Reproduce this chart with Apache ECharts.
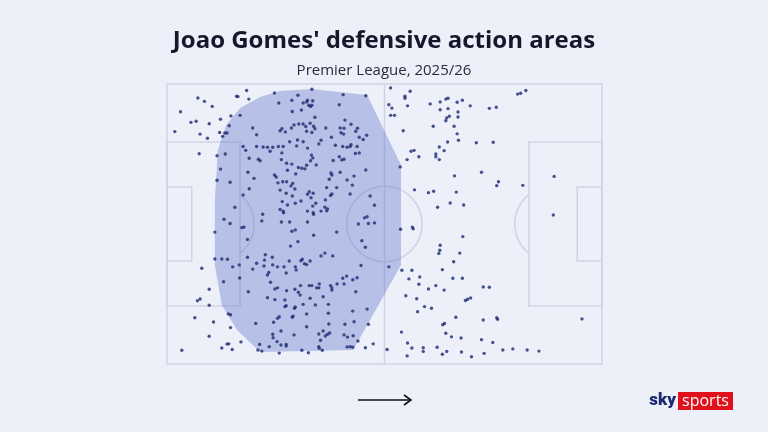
<!DOCTYPE html>
<html>
<head>
<meta charset="utf-8">
<script src="https://cdn.jsdelivr.net/npm/echarts@6/dist/echarts.min.js"></script>
<style>
  html, body { margin: 0; padding: 0; background: #eef0f9; }
  #chart { width: 768px; height: 432px; }
</style>
</head>
<body>
<div id="chart"></div>
<script>
// pitch coordinates 0-100 (Opta style), attack left -> right
var titleText = "Joao Gomes' defensive action areas";
var subtitleText = 'Premier League, 2025/26';

// defensive actions [x, y]
var actions = [
  [18.3,2.3],[16.0,4.4],[16.3,4.5],[18.8,5.4],[7.1,5.0],[8.6,6.2],[10.4,8.0],[3.1,9.9],[14.7,11.4],[16.8,11.2],
  [12.3,12.6],[6.7,13.3],[5.5,13.7],[9.7,14.2],[14.3,14.9],[19.7,15.7],[1.8,17.0],[7.6,17.9],[12.1,17.3],[13.3,17.5],
  [13.8,17.5],[12.8,18.7],[20.6,18.1],[9.3,19.4],[24.7,3.2],[17.5,22.3],[18.1,23.7],[20.6,22.3],[22.1,22.5],[23.1,22.6],
  [24.3,22.6],[23.7,24.0],[7.4,24.9],[13.4,25.0],[11.5,25.6],[18.9,26.5],[21.0,26.9],[21.4,27.4],[12.3,30.4],[18.6,31.5],
  [33.3,1.9],[40.5,3.8],[45.7,4.2],[30.1,4.0],[25.7,6.8],[28.7,5.8],[31.3,6.8],[32.1,6.4],[32.3,5.8],[33.5,6.0],
  [32.6,7.6],[33.0,8.0],[33.3,7.6],[39.6,7.4],[28.8,9.8],[30.9,9.3],[34.0,11.9],[29.2,14.6],[30.3,14.3],[31.3,14.3],
  [32.9,14.0],[28.6,15.7],[26.4,16.0],[26.0,16.7],[27.2,17.1],[31.9,15.2],[33.7,15.1],[34.0,16.0],[32.1,16.9],[33.3,17.3],
  [36.5,15.7],[40.9,12.9],[42.3,14.4],[39.8,15.7],[40.7,15.8],[43.8,15.8],[43.4,16.9],[40.0,17.4],[37.8,19.0],[40.6,17.9],
  [45.9,18.3],[44.2,19.0],[45.1,19.8],[35.4,20.1],[34.9,21.4],[28.2,20.6],[30.0,20.0],[31.3,20.6],[29.8,22.1],[32.3,22.9],
  [25.6,22.3],[26.7,22.3],[38.7,21.9],[40.4,22.3],[41.4,22.6],[42.1,22.3],[42.3,21.7],[43.7,22.3],[43.3,24.8],[44.2,24.6],
  [39.6,26.0],[40.2,27.1],[40.7,26.9],[38.2,27.3],[26.4,24.6],[33.2,25.4],[33.5,26.4],[33.0,27.4],[26.3,27.0],[27.5,28.3],
  [28.7,28.6],[34.3,28.9],[32.1,29.0],[31.0,30.1],[30.2,29.8],[31.7,30.3],[27.7,30.8],[37.7,31.8],[39.8,31.5],[45.7,30.7],
  [51.4,1.4],[55.9,2.6],[54.7,4.4],[54.7,5.1],[51.0,7.4],[51.7,8.6],[55.3,7.8],[60.5,7.1],[62.8,6.4],[64.1,5.4],
  [64.6,5.1],[66.7,6.5],[67.9,5.8],[62.8,9.2],[64.6,8.8],[66.9,10.0],[69.7,7.8],[74.1,8.7],[75.7,8.3],[51.4,11.2],
  [52.3,11.2],[64.3,12.1],[64.9,11.5],[64.1,13.1],[66.9,11.8],[61.2,15.1],[66.0,15.1],[54.3,16.7],[66.7,17.8],[67.0,20.1],
  [64.5,20.7],[71.1,21.0],[75.0,20.8],[62.6,22.5],[56.1,24.0],[56.8,23.7],[63.7,23.8],[61.8,25.0],[61.8,26.0],[57.9,26.0],
  [62.6,27.0],[55.2,27.0],[53.6,29.6],[72.3,31.5],[80.6,3.6],[81.3,3.3],[82.5,2.3],
  [11.5,34.4],[14.5,35.1],[20.0,33.7],[24.7,32.5],[18.9,37.4],[17.5,39.6],[15.6,44.0],[13.1,48.3],[14.5,49.8],[22.0,46.5],
  [21.8,48.9],[17.2,51.3],[17.7,51.1],[11.0,52.9],[18.5,55.5],[11.0,62.5],[12.6,62.5],[13.9,62.6],[18.5,61.9],[22.6,61.0],
  [24.2,61.9],[22.4,62.9],[20.6,64.0],[24.3,64.6],[22.3,65.0],[16.6,64.6],
  [25.1,33.2],[29.6,32.1],[37.9,32.5],[43.0,32.9],[25.5,35.3],[26.6,34.9],[27.5,34.9],[28.5,36.4],[28.9,35.5],[29.4,37.5],
  [26.0,37.9],[37.3,34.0],[41.4,34.3],[42.6,36.1],[36.7,37.0],[39.0,37.0],[27.4,39.0],[28.8,40.0],[32.7,38.5],[32.3,39.4],
  [33.6,39.0],[33.1,40.6],[37.9,39.3],[37.6,39.8],[42.1,39.3],[46.7,40.0],[30.8,41.8],[26.5,42.0],[29.5,42.6],[34.2,42.6],
  [36.4,41.4],[47.7,43.3],[33.5,43.6],[27.7,43.2],[36.3,44.0],[36.9,44.6],[36.7,45.3],[26.0,44.8],[26.7,45.4],[26.8,46.0],
  [32.3,45.4],[33.6,46.0],[33.7,46.5],[35.4,45.4],[45.4,47.8],[46.0,47.4],[26.3,49.3],[28.2,49.3],[32.3,49.3],[44.0,50.0],
  [46.3,49.8],[47.7,49.6],[29.5,52.1],[28.7,52.6],[39.0,52.9],[33.7,54.0],[44.8,56.0],[30.1,56.3],[45.6,58.3],[28.4,57.9],
  [36.3,60.4],[35.4,61.4],[38.1,61.4],[31.1,62.6],[30.8,63.1],[32.9,63.2],[28.1,63.2],[31.6,64.2],[32.1,64.5],[25.4,65.3],
  [26.9,65.3],[29.5,65.3],[44.6,64.8],
  [66.1,32.8],[56.9,37.8],[60.1,38.8],[61.3,38.3],[66.5,38.6],[65.1,42.5],[68.2,43.2],[62.2,44.0],[53.7,51.9],[56.4,51.1],
  [56.6,51.7],[68.0,54.5],[62.8,57.6],[62.7,59.4],[62.5,60.5],[67.3,60.4],[65.9,63.5],[51.0,65.3],
  [76.2,34.9],[75.8,36.3],[81.8,36.2],[89.0,33.0],[88.8,46.8],
  [8.0,65.8],[15.1,65.3],[19.7,66.1],[23.4,67.3],[23.1,68.2],[16.7,69.3],[13.0,70.6],[23.8,70.8],[9.7,73.3],[18.7,74.2],
  [7.6,76.8],[7.0,77.4],[23.1,76.3],[9.7,79.0],[14.1,82.1],[14.6,82.4],[6.4,83.5],[10.7,85.0],[20.4,85.5],[24.5,85.1],
  [14.6,87.0],[9.7,90.1],[24.3,89.4],[24.4,90.6],[17.0,92.1],[13.8,92.9],[14.2,92.8],[21.3,93.0],[12.6,94.3],[15.0,94.8],
  [23.5,93.8],[20.9,95.0],[21.8,95.4],[3.4,95.1],
  [29.7,66.4],[27.4,67.5],[41.3,68.6],[40.4,69.4],[42.7,69.9],[43.7,69.2],[24.8,73.2],[25.4,72.8],[27.5,73.8],[29.4,73.3],
  [30.2,74.4],[30.6,75.4],[30.7,72.0],[32.7,72.0],[33.3,72.0],[34.4,72.8],[34.9,72.8],[35.0,71.4],[37.6,72.0],[37.9,72.8],
  [37.9,73.6],[39.1,71.4],[40.7,71.4],[43.4,74.2],[24.8,77.0],[27.1,77.1],[32.9,76.5],[35.9,76.0],[27.1,79.5],[27.4,79.2],
  [29.3,80.1],[29.5,79.6],[31.3,78.7],[34.1,78.9],[37.1,78.7],[46.0,80.4],[42.7,81.1],[37.1,81.9],[32.1,82.1],[25.8,83.1],
  [25.4,83.7],[28.8,83.3],[29.0,82.9],[43.0,84.9],[37.2,85.7],[40.9,85.8],[46.3,85.8],[32.1,86.7],[26.2,88.2],[35.9,88.2],
  [34.9,89.3],[36.4,90.0],[36.9,89.4],[37.4,88.9],[29.2,89.6],[40.7,89.6],[41.5,90.4],[42.8,89.9],[35.3,91.5],[25.3,92.0],
  [43.9,91.8],[47.4,92.8],[26.2,93.2],[27.4,93.6],[27.4,93.0],[34.9,93.8],[35.0,94.4],[35.7,95.1],[31.0,95.1],[32.5,96.0],
  [25.8,96.1],[41.4,93.9],[42.1,93.8],[42.7,94.0],[45.6,94.2],
  [54.0,66.5],[56.3,66.5],[63.3,66.3],[55.6,69.6],[58.1,68.9],[65.7,69.4],[67.9,69.4],[57.9,71.5],[61.8,72.0],[60.1,73.2],
  [63.7,73.6],[72.7,72.5],[74.1,72.6],[54.9,75.6],[57.4,76.7],[68.6,77.3],[69.1,76.9],[69.8,76.4],[59.2,79.5],[60.8,80.1],
  [57.6,81.3],[66.4,83.3],[72.7,84.3],[75.8,83.5],[76.0,84.0],[63.8,85.5],[63.4,86.0],[53.9,88.6],[64.1,89.0],[65.4,90.3],
  [67.6,90.7],[72.3,91.3],[74.9,92.3],[55.3,92.5],[56.3,94.3],[58.9,94.2],[58.9,95.5],[62.1,94.0],[50.6,94.8],[64.3,95.5],
  [67.7,95.7],[72.9,96.2],[55.2,97.1],[63.3,96.5],[70.0,97.4],
  [77.2,95.0],[79.5,94.6],[82.8,95.0],[85.5,95.4],[95.4,83.9]
];

// outline of the action area
var areaOutline = [
  [33.3,1.8],[46.0,3.9],[53.8,28.9],[53.8,64.6],[42.8,95.0],[21.4,95.7],[16.1,87.9],[12.6,78.9],
  [11.0,64.6],[11.0,41.4],[11.7,23.6],[13.6,14.6],[16.8,8.6],[21.4,4.6],[26.0,2.5]
];

// pitch markings [x0, y0, x1, y1]
var pitchBoxes = [
  [0, 0, 100, 100],
  [0, 20.7, 16.8, 79.3],
  [83.2, 20.7, 100, 79.3],
  [0, 36.8, 5.7, 63.2],
  [94.3, 36.8, 100, 63.2]
];
var halfwayLine = [[50, 0], [50, 100]];
var centreSpot = [50, 50];
var penaltySpots = [[11.4, 50], [88.6, 50]];
var circleRadius = 8.65; // in x units

var lineColor = '#cfd3e5';

var chart = echarts.init(document.getElementById('chart'));

function pitchRender(params, api) {
  var kids = [];
  pitchBoxes.forEach(function (b) {
    var p0 = api.coord([b[0], b[1]]);
    var p1 = api.coord([b[2], b[3]]);
    kids.push({
      type: 'rect',
      shape: { x: p0[0], y: p0[1], width: p1[0] - p0[0], height: p1[1] - p0[1] },
      style: { fill: null, stroke: lineColor, lineWidth: 1.5 }
    });
  });
  var h0 = api.coord(halfwayLine[0]), h1 = api.coord(halfwayLine[1]);
  kids.push({
    type: 'line',
    shape: { x1: h0[0], y1: h0[1], x2: h1[0], y2: h1[1] },
    style: { stroke: lineColor, lineWidth: 1.5 }
  });
  var r = api.size([circleRadius, 0])[0];
  var c = api.coord(centreSpot);
  kids.push({
    type: 'circle',
    shape: { cx: c[0], cy: c[1], r: r },
    style: { fill: null, stroke: lineColor, lineWidth: 1.5 }
  });
  // penalty arcs
  var leftEdge = api.coord([pitchBoxes[1][2], 50])[0];
  var rightEdge = api.coord([pitchBoxes[2][0], 50])[0];
  var ls = api.coord(penaltySpots[0]), rs = api.coord(penaltySpots[1]);
  var la = Math.acos((leftEdge - ls[0]) / r);
  var ra = Math.acos((rs[0] - rightEdge) / r);
  kids.push({
    type: 'arc',
    shape: { cx: ls[0], cy: ls[1], r: r, startAngle: -la, endAngle: la, clockwise: true },
    style: { fill: null, stroke: lineColor, lineWidth: 1.5 }
  });
  kids.push({
    type: 'arc',
    shape: { cx: rs[0], cy: rs[1], r: r, startAngle: Math.PI - ra, endAngle: Math.PI + ra, clockwise: true },
    style: { fill: null, stroke: lineColor, lineWidth: 1.5 }
  });
  return { type: 'group', children: kids };
}

function areaRender(params, api) {
  var pts = areaOutline.map(function (p) { return api.coord(p); });
  return {
    type: 'polygon',
    shape: { points: pts },
    style: { fill: 'rgba(90,110,200,0.37)', stroke: null }
  };
}

chart.setOption({
  backgroundColor: '#eef0f9',
  animation: false,
  title: {
    text: titleText,
    subtext: subtitleText,
    left: 'center',
    top: 24,
    itemGap: 10,
    textStyle: { fontFamily: 'Open Sans', fontSize: 24, fontWeight: 'bold', color: '#15172b' },
    subtextStyle: { fontFamily: 'Open Sans', fontSize: 15, color: '#2a2c3c' }
  },
  grid: { left: 167, top: 84, width: 435, height: 280 },
  xAxis: { type: 'value', min: 0, max: 100, show: false },
  yAxis: { type: 'value', min: 0, max: 100, inverse: true, show: false },
  series: [
    {
      type: 'custom',
      renderItem: pitchRender,
      data: [[0, 0]],
      silent: true,
      z: 1
    },
    {
      type: 'custom',
      renderItem: areaRender,
      data: [[0, 0]],
      silent: true,
      z: 2
    },
    {
      type: 'scatter',
      data: actions,
      symbol: 'circle',
      symbolSize: 3.4,
      itemStyle: { color: '#1a2a70' },
      z: 3
    }
  ],
  graphic: [
    {
      type: 'group',
      children: [
        { type: 'line', shape: { x1: 358, y1: 400, x2: 411, y2: 400 }, style: { stroke: '#111', lineWidth: 1.6 } },
        { type: 'polyline', shape: { points: [[404, 395], [411, 400], [404, 405]] }, style: { stroke: '#111', lineWidth: 1.6, fill: null } }
      ]
    },
    {
      type: 'text',
      x: 676, y: 401,
      style: {
        text: 'sky', fontFamily: 'Roboto', fontSize: 17, fontWeight: 900, fill: '#1d2a6e',
        align: 'right', verticalAlign: 'middle'
      }
    },
    {
      type: 'rect',
      shape: { x: 678, y: 392, width: 55, height: 18 },
      style: { fill: '#e0111b' }
    },
    {
      type: 'text',
      x: 705.5, y: 401,
      style: {
        text: 'sports', fontFamily: 'Open Sans', fontSize: 16, fill: '#ffffff',
        align: 'center', verticalAlign: 'middle'
      }
    }
  ]
});
</script>
</body>
</html>
